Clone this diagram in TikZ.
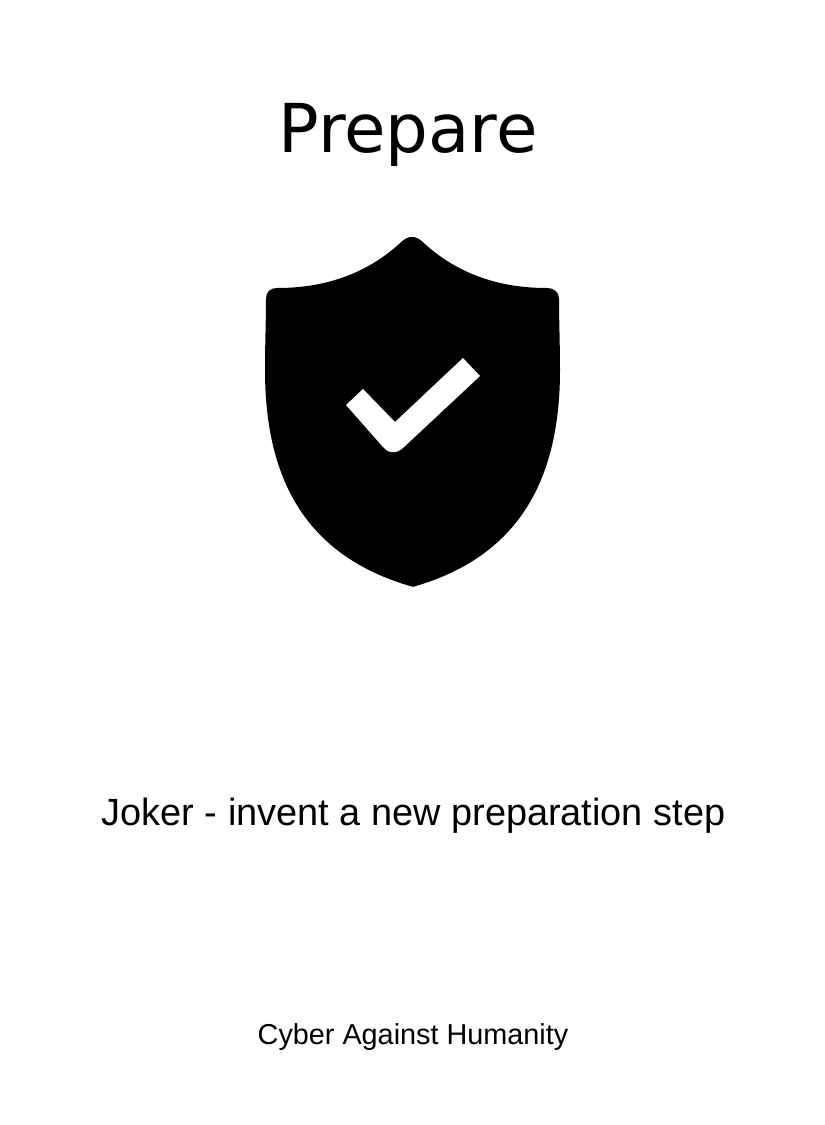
\documentclass[tikz,border=0pt]{standalone}
\usepackage{fontspec}
\setmainfont{Liberation Sans}
\newfontfamily\titlefont{DejaVu Sans}
\begin{document}
\begin{tikzpicture}[x=1pt,y=-1pt,
  cardtext/.style={anchor=base, inner sep=0pt}]
\useasboundingbox (0,0) rectangle (825,1125);
\fill[white] (0,0) rectangle (825,1125);
\node[cardtext, font=\titlefont\fontsize{67.4}{80}\selectfont] (title) at (408,152.3){Prepare};
% shield
\fill[black] (277,288) .. controls (325,288) and (365,274) .. (398,245)
  .. controls (405,238) and (408,237) .. (412,237)
  .. controls (416,237) and (419,238) .. (426,245)
  .. controls (459,274) and (499,288) .. (547,288)
  .. controls (554,288) and (559,292) .. (559,299)
  .. controls (559,320) and (560,345) .. (560,370)
  .. controls (560,482) and (517,556) .. (416,586)
  .. controls (414,587) and (412,587) .. (410,586)
  .. controls (308,556) and (265,482) .. (265,370)
  .. controls (265,345) and (266,320) .. (266,299)
  .. controls (266,292) and (270,288) .. (277,288) -- cycle;
% tick
\fill[white] (346,405) -- (363,389) -- (395,422) -- (463,358) -- (480,376)
  -- (404,447) .. controls (397,454) and (389,454) .. (383,447) -- cycle;
\node[cardtext, font=\fontsize{37.9}{45}\selectfont] (step) at (413.5,825.5){Joker - invent a new preparation step};
\node[cardtext, font=\fontsize{28.8}{35}\selectfont] (deck) at (413,1044){Cyber Against Humanity};
\end{tikzpicture}
\end{document}
